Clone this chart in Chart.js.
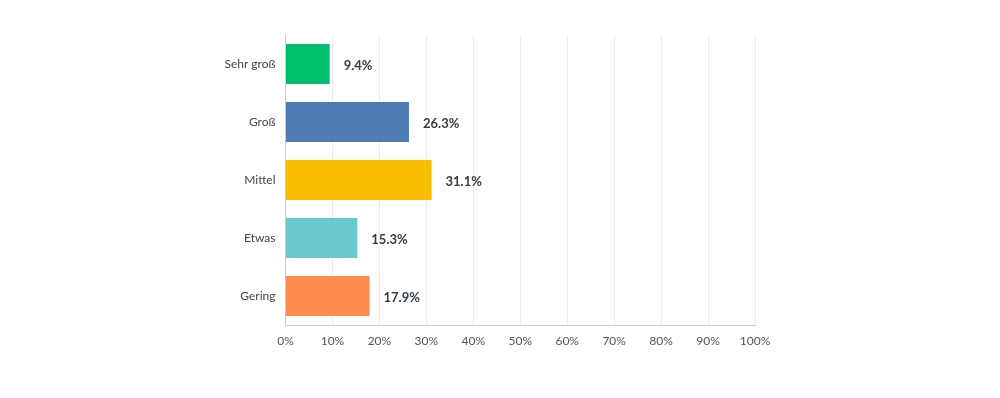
<!DOCTYPE html>
<html lang="de">
<head>
  <meta charset="UTF-8">
  <title>Umfrage</title>
  <script src="https://cdn.jsdelivr.net/npm/chart.js"></script>
  <style>
    body { margin: 0; background: #fff; }
    #wrap { width: 1000px; height: 398px; }
  </style>
</head>
<body>
  <div id="wrap"><canvas id="chart"></canvas></div>
  <script>
    const categories = ['Sehr groß', 'Groß', 'Mittel', 'Etwas', 'Gering'];
    const values = [9.4, 26.3, 31.1, 15.3, 17.9];
    const colors = ['#00bf6f', '#507cb6', '#f9be00', '#6bc8cd', '#ff8b4f'];

    const fontFamily = 'Lato, "Open Sans", sans-serif';

    // Prozentwerte rechts neben den Balken
    const valueLabels = {
      id: 'valueLabels',
      afterDatasetsDraw(chart) {
        const ctx = chart.ctx;
        const meta = chart.getDatasetMeta(0);
        ctx.save();
        ctx.font = 'bold 13px ' + fontFamily;
        ctx.fillStyle = '#333e48';
        ctx.textBaseline = 'middle';
        meta.data.forEach((bar, i) => {
          ctx.fillText(values[i].toFixed(1) + '%', bar.x + 14, bar.y + 2);
        });
        ctx.restore();
      }
    };

    new Chart(document.getElementById('chart'), {
      type: 'bar',
      data: {
        labels: categories,
        datasets: [{
          data: values,
          backgroundColor: colors,
          borderWidth: 0,
          categoryPercentage: 1,
          barPercentage: 0.69
        }]
      },
      options: {
        indexAxis: 'y',
        responsive: true,
        maintainAspectRatio: false,
        animation: false,
        layout: { padding: { left: 0, right: 245, top: 35, bottom: 0 } },
        plugins: {
          legend: { display: false },
          tooltip: { enabled: false }
        },
        scales: {
          x: {
            min: 0,
            max: 100,
            ticks: {
              stepSize: 10,
              callback: v => v + '%',
              color: '#555',
              font: { family: fontFamily, size: 12 },
              padding: 9
            },
            grid: { color: '#ebebeb', drawTicks: false },
            border: { color: '#cccccc' },
            afterFit: s => { s.height = 73; }
          },
          y: {
            ticks: {
              color: '#444',
              font: { family: fontFamily, size: 12 },
              padding: 10
            },
            grid: { display: false, drawTicks: false },
            border: { color: '#cccccc' },
            afterFit: s => { s.width = 285.5; }
          }
        }
      },
      plugins: [valueLabels]
    });
  </script>
</body>
</html>
